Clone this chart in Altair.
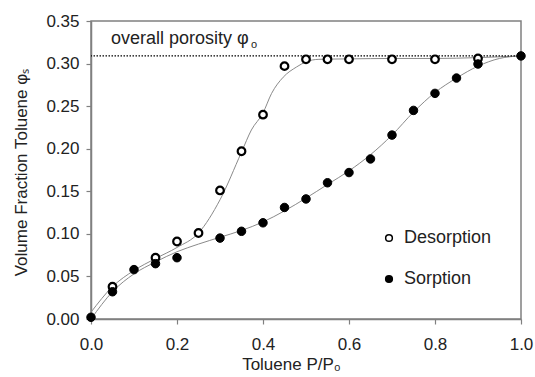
import altair as alt
import pandas as pd

# Measured isotherm points (toluene relative pressure vs volume fraction)
des_x = [0.05, 0.15, 0.20, 0.25, 0.30, 0.35, 0.40, 0.45, 0.50, 0.55, 0.60, 0.70, 0.80, 0.90]
des_y = [0.038, 0.072, 0.091, 0.101, 0.151, 0.197, 0.240, 0.297, 0.305, 0.305, 0.305, 0.305, 0.305, 0.306]

sor_x = [0.00, 0.05, 0.10, 0.15, 0.20, 0.30, 0.35, 0.40, 0.45, 0.50, 0.55, 0.60, 0.65,
         0.70, 0.75, 0.80, 0.85, 0.90, 1.00]
sor_y = [0.002, 0.032, 0.058, 0.065, 0.072, 0.095, 0.103, 0.113, 0.131, 0.141, 0.160, 0.172,
         0.188, 0.216, 0.245, 0.265, 0.283, 0.2995, 0.309]

# Smooth guide curves through each branch
des_fit_x = [0.00, 0.05, 0.10, 0.15, 0.20, 0.25, 0.30, 0.35, 0.373, 0.40, 0.42, 0.447,
             0.478, 0.50, 0.53, 0.60, 0.70, 0.80, 0.90, 1.00]
des_fit_y = [0.008, 0.038, 0.057, 0.071, 0.084, 0.101, 0.140, 0.196, 0.222, 0.242, 0.265, 0.284,
             0.296, 0.302, 0.305, 0.3055, 0.306, 0.306, 0.307, 0.309]

sor_fit_x = [0.00, 0.05, 0.10, 0.15, 0.20, 0.25, 0.30, 0.35, 0.40, 0.45, 0.50, 0.55, 0.60,
             0.65, 0.70, 0.75, 0.80, 0.85, 0.90, 0.95, 1.00]
sor_fit_y = [0.000, 0.032, 0.053, 0.067, 0.079, 0.088, 0.096, 0.104, 0.114, 0.127, 0.142, 0.158,
             0.174, 0.193, 0.216, 0.243, 0.266, 0.283, 0.297, 0.306, 0.309]

porosity = 0.309

FONT = "Liberation Sans"

points = pd.DataFrame(
    {"x": des_x + sor_x,
     "y": des_y + sor_y,
     "branch": ["Desorption"] * len(des_x) + ["Sorption"] * len(sor_x)}
)
fits = pd.DataFrame(
    {"x": des_fit_x + sor_fit_x,
     "y": des_fit_y + sor_fit_y,
     "branch": ["Desorption"] * len(des_fit_x) + ["Sorption"] * len(sor_fit_x)}
)

x_scale = alt.Scale(domain=[0, 1.0], nice=False, zero=False)
y_scale = alt.Scale(domain=[0, 0.35], nice=False, zero=False)

x_axis = alt.Axis(
    values=[0, 0.2, 0.4, 0.6, 0.8, 1.0], format=".1f", grid=False, labelFlush=False,
    title="Toluene P/P₀", titleX=200, titleY=50, titleAlign="center",
    titleBaseline="alphabetic", titleFontWeight="normal",
)
y_axis = alt.Axis(
    values=[0, 0.05, 0.10, 0.15, 0.20, 0.25, 0.30, 0.35], format=".2f", grid=False,
    labelFlush=False,
    title="Volume Fraction Toluene φₛ", titleX=-65, titleY=151, titleAlign="center",
    titleBaseline="alphabetic", titleAngle=270, titleFontWeight="normal",
)

curves = alt.Chart(fits).mark_line(color="#8a8a8a", strokeWidth=1, interpolate="monotone").encode(
    x=alt.X("x:Q", scale=x_scale, axis=x_axis),
    y=alt.Y("y:Q", scale=y_scale, axis=y_axis),
    detail="branch:N",
)

porosity_line = alt.Chart(pd.DataFrame({"y": [porosity]})).mark_rule(
    color="black", strokeWidth=1.4, strokeDash=[1.5, 1.5]
).encode(y=alt.Y("y:Q", scale=y_scale))

is_open = alt.datum.branch == "Desorption"

marks = alt.Chart(points).mark_point(filled=True, stroke="black", shape="circle", opacity=1).encode(
    x=alt.X("x:Q", scale=x_scale),
    y=alt.Y("y:Q", scale=y_scale),
    fill=alt.Fill(
        "branch:N",
        scale=alt.Scale(domain=["Desorption", "Sorption"], range=["white", "black"]),
        legend=alt.Legend(
            title=None, orient="none", legendX=289, legendY=208, padding=0,
            labelFont=FONT, labelFontSize=18, labelColor="#222",
            rowPadding=23, labelOffset=6, symbolStrokeColor="black",
            symbolStrokeWidth=1.5, symbolSize=45, symbolType="circle",
        ),
    ),
    size=alt.condition(is_open, alt.value(58), alt.value(72)),
    strokeWidth=alt.condition(is_open, alt.value(2.2), alt.value(1)),
)

label = alt.Chart(pd.DataFrame({"t": ["overall porosity φ"]})).mark_text(
    font=FONT, fontSize=18, align="left", baseline="alphabetic", color="#222"
).encode(text="t:N", x=alt.value(20), y=alt.value(23))

label_sub = alt.Chart(pd.DataFrame({"t": ["o"]})).mark_text(
    font=FONT, fontSize=11, align="left", baseline="alphabetic", color="#222"
).encode(text="t:N", x=alt.value(160), y=alt.value(27))

chart = (
    alt.layer(curves, porosity_line, marks, label, label_sub)
    .properties(
        width=430, height=298,
        autosize=alt.AutoSizeParams(type="none"),
        padding={"left": 91, "top": 21, "right": 14, "bottom": 58},
        background="white",
    )
    .configure_view(stroke="#808080", strokeWidth=1.5)
    .configure_axis(
        domainColor="#808080", domainWidth=1.5, tickColor="#808080", tickWidth=1.2,
        tickSize=5, labelFont=FONT, labelFontSize=17, labelColor="#222",
        titleFont=FONT, titleFontSize=17, titleColor="#222",
    )
    .configure_axisX(labelPadding=12)
    .configure_axisY(labelPadding=7)
)

chart.save("out.html", embed_options={"renderer": "svg", "actions": False})
